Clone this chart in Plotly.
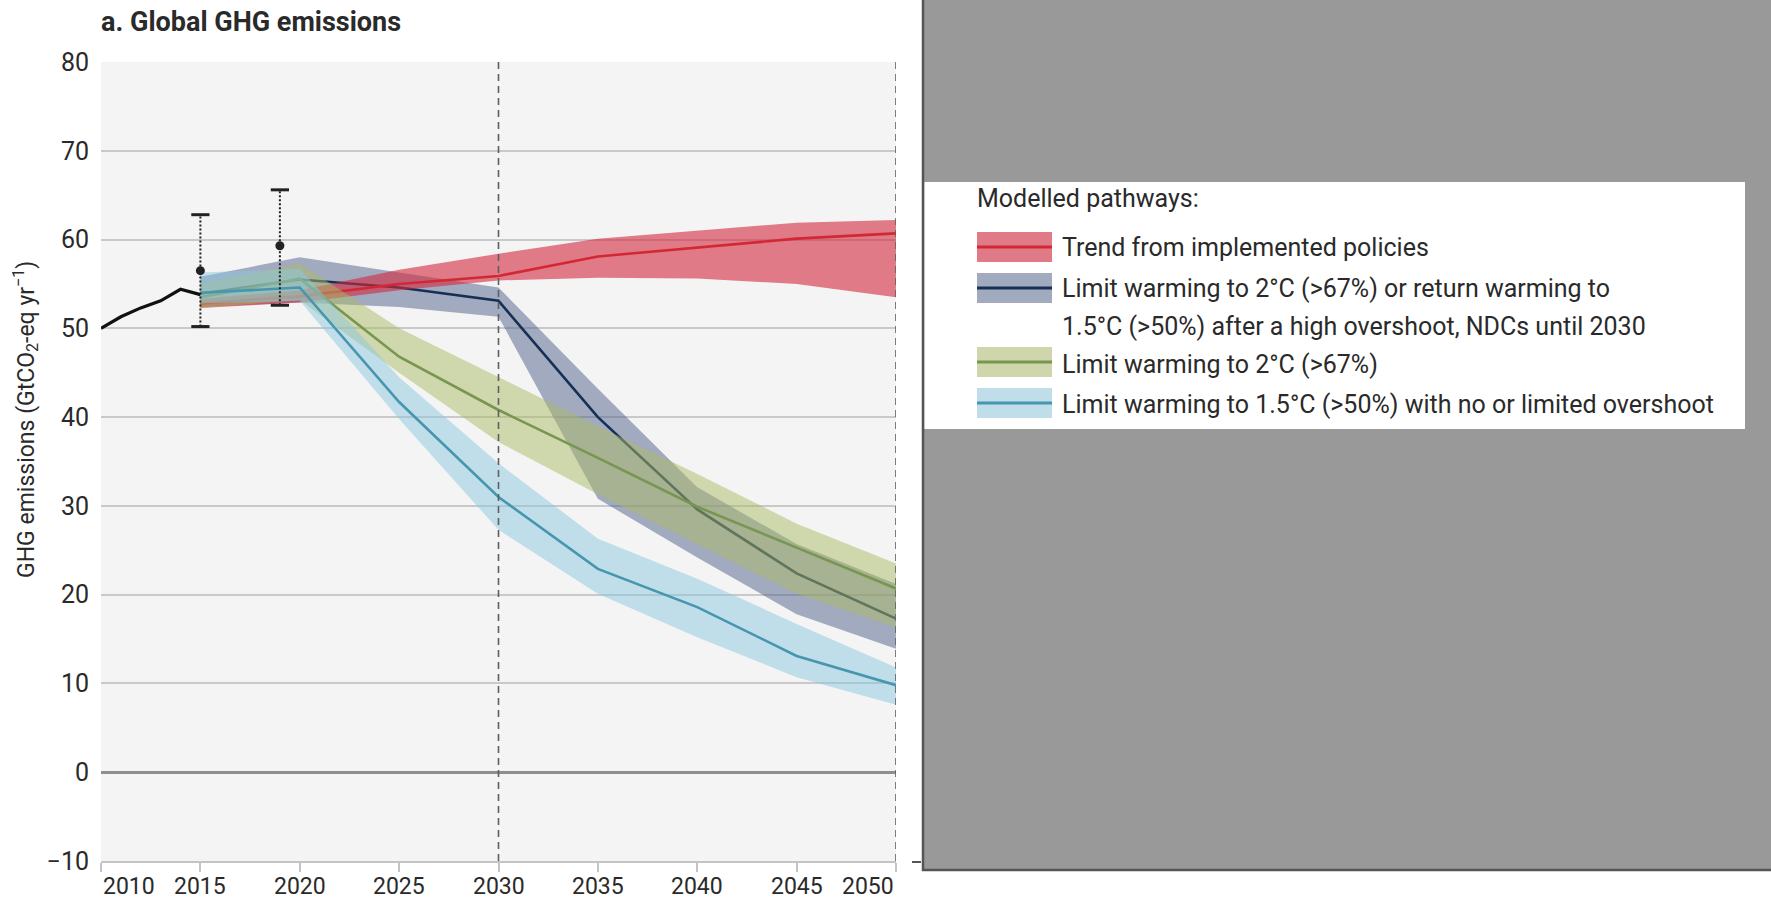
import plotly.graph_objects as go

# ---- data -------------------------------------------------------------
hist_years = [2010, 2011, 2012, 2013, 2014, 2015]
hist_values = [50.0, 51.3, 52.3, 53.1, 54.4, 53.8]

est_years = [2015, 2019]
est_values = [56.5, 59.3]
est_low = [50.2, 52.6]
est_high = [62.8, 65.6]

path_years = [2015, 2020, 2025, 2030, 2035, 2040, 2045, 2050]

policies_med = [52.8, 53.6, 55.0, 55.9, 58.1, 59.1, 60.1, 60.7]
policies_hi = [53.3, 54.3, 56.6, 58.4, 60.1, 61.0, 61.9, 62.2]
policies_lo = [52.3, 52.9, 54.3, 55.4, 55.7, 55.6, 55.0, 53.5]

ndc_med = [53.9, 55.5, 54.6, 53.1, 40.0, 29.6, 22.4, 17.3]
ndc_hi = [55.8, 58.0, 56.3, 54.6, 43.2, 32.1, 25.7, 21.2]
ndc_lo = [52.4, 52.9, 52.4, 51.3, 30.8, 24.2, 17.8, 13.9]

c2_med = [53.5, 55.6, 46.8, 40.8, 35.4, 29.9, 25.3, 20.7]
c2_hi = [55.0, 57.3, 50.0, 44.5, 39.0, 33.6, 28.0, 23.5]
c2_lo = [52.3, 53.2, 45.0, 37.2, 31.3, 25.7, 20.1, 16.3]

c15_med = [54.0, 54.6, 41.7, 31.0, 22.9, 18.6, 13.1, 9.8]
c15_hi = [56.3, 56.7, 44.5, 34.8, 26.3, 21.8, 16.7, 11.8]
c15_lo = [52.8, 53.1, 39.8, 27.3, 20.1, 15.2, 10.7, 7.6]

x_ticks = [2010, 2015, 2020, 2025, 2030, 2035, 2040, 2045, 2050]
y_ticks = [-10, 0, 10, 20, 30, 40, 50, 60, 70, 80]

legend_title = "Modelled pathways:"
legend_labels = [
    ["Trend from implemented policies"],
    ["Limit warming to 2°C (>67%) or return warming to",
     "1.5°C (>50%) after a high overshoot, NDCs until 2030"],
    ["Limit warming to 2°C (>67%)"],
    ["Limit warming to 1.5°C (>50%) with no or limited overshoot"],
]
legend_fills = ["rgb(224,122,134)", "rgb(162,170,192)", "rgb(207,214,172)", "rgb(192,222,233)"]
legend_lines = ["rgb(210,40,52)", "rgb(22,48,85)", "rgb(120,150,80)", "rgb(70,150,175)"]

# ---- layout geometry (pixels) -----------------------------------------
W, H = 1771, 901
L, R, T, B = 101, 896, 62, 861
FONT = "Roboto, Arial, sans-serif"
TXT = "#2a2a2a"


def px_x(px):
    return (px - L) / (R - L)


def px_y(py):
    return (B - py) / (B - T)


fig = go.Figure()


def add_band(lo, hi, med, fill, line):
    fig.add_trace(go.Scatter(
        x=path_years + path_years[::-1], y=hi + lo[::-1],
        fill="toself", fillcolor=fill, line=dict(width=0),
        mode="lines", hoverinfo="skip", showlegend=False))
    fig.add_trace(go.Scatter(
        x=path_years, y=med, mode="lines",
        line=dict(color=line, width=2.6), showlegend=False))


add_band(ndc_lo, ndc_hi, ndc_med, "rgba(80,95,140,0.5)", legend_lines[1])
add_band(policies_lo, policies_hi, policies_med, "rgba(210,40,60,0.6)", legend_lines[0])
add_band(c2_lo, c2_hi, c2_med, "rgba(170,185,100,0.5)", legend_lines[2])
add_band(c15_lo, c15_hi, c15_med, "rgba(140,200,222,0.5)", legend_lines[3])

# historical emissions
fig.add_trace(go.Scatter(x=hist_years, y=hist_values, mode="lines",
                         line=dict(color="#111111", width=3.2), showlegend=False))

# estimates with uncertainty ranges
for yr, v, lo, hi in zip(est_years, est_values, est_low, est_high):
    fig.add_trace(go.Scatter(x=[yr, yr], y=[lo, hi], mode="lines",
                             line=dict(color="#222222", width=2, dash="2px,2px"),
                             showlegend=False))
    fig.add_trace(go.Scatter(x=[yr, yr], y=[lo, hi], mode="markers",
                             marker=dict(symbol="line-ew", size=13,
                                         line=dict(color="#222222", width=3)),
                             showlegend=False))
    fig.add_trace(go.Scatter(x=[yr], y=[v], mode="markers",
                             marker=dict(symbol="circle", size=9, color="#222222"),
                             showlegend=False))

shapes = []
# dashed reference years
for yr in (2030, 2050):
    shapes.append(dict(type="line", xref="x", yref="y", x0=yr, x1=yr, y0=-10, y1=80,
                       line=dict(color="#5f5f5f", width=1.6, dash="7px,5px"), layer="above"))

# grey side panel with legend box
shapes.append(dict(type="rect", xref="paper", yref="paper",
                   x0=px_x(923), x1=px_x(1800), y0=px_y(870), y1=px_y(-20),
                   fillcolor="#999999", line=dict(color="#555555", width=2.5), layer="above"))
shapes.append(dict(type="rect", xref="paper", yref="paper",
                   x0=px_x(924.5), x1=px_x(1745), y0=px_y(429), y1=px_y(182),
                   fillcolor="#ffffff", line=dict(width=0), layer="above"))
shapes.append(dict(type="line", xref="paper", yref="paper",
                   x0=px_x(912), x1=px_x(921), y0=px_y(862), y1=px_y(862),
                   line=dict(color="#555555", width=2), layer="above"))

annotations = []
swatch_y = [247, 288, 362, 403]
text_y = [[247], [288, 326], [364], [404]]
for labels, fill, line, cy, tys in zip(legend_labels, legend_fills, legend_lines, swatch_y, text_y):
    shapes.append(dict(type="rect", xref="paper", yref="paper",
                       x0=px_x(977), x1=px_x(1052), y0=px_y(cy + 15), y1=px_y(cy - 15),
                       fillcolor=fill, line=dict(width=0), layer="above"))
    shapes.append(dict(type="line", xref="paper", yref="paper",
                       x0=px_x(977), x1=px_x(1052), y0=px_y(cy), y1=px_y(cy),
                       line=dict(color=line, width=3), layer="above"))
    for label, ty in zip(labels, tys):
        annotations.append(dict(xref="paper", yref="paper", x=px_x(1060), y=px_y(ty),
                                xanchor="left", yanchor="middle",
                                text=label, showarrow=False, align="left",
                                font=dict(family=FONT, size=25, color=TXT)))

annotations.append(dict(xref="paper", yref="paper", x=px_x(975), y=px_y(198),
                        xanchor="left", yanchor="middle", text=legend_title, showarrow=False,
                        font=dict(family=FONT, size=25, color=TXT)))

# title and axis title
annotations.append(dict(xref="paper", yref="paper", x=px_x(99), y=px_y(22),
                        xanchor="left", yanchor="middle", text="<b>a. Global GHG emissions</b>",
                        showarrow=False, font=dict(family=FONT, size=27, color=TXT)))
annotations.append(dict(xref="paper", yref="paper", x=px_x(25), y=px_y(420),
                        xanchor="center", yanchor="middle", textangle=-90,
                        text="GHG emissions (GtCO<sub>2</sub>-eq yr<sup>−1</sup>)",
                        showarrow=False, font=dict(family=FONT, size=23, color=TXT)))

# x tick labels (outer labels kept inside the axis span)
for yr in x_ticks:
    anchor = "left" if yr == x_ticks[0] else ("right" if yr == x_ticks[-1] else "center")
    annotations.append(dict(xref="x", yref="paper", x=yr, y=px_y(887),
                            xanchor=anchor, yanchor="middle", text=str(yr),
                            showarrow=False, font=dict(family=FONT, size=23, color=TXT)))

fig.update_layout(
    width=W, height=H,
    margin=dict(l=L, r=W - R, t=T, b=H - B, pad=0),
    paper_bgcolor="#ffffff", plot_bgcolor="#f4f4f4",
    shapes=shapes, annotations=annotations,
    showlegend=False,
    font=dict(family=FONT, size=24, color=TXT),
)
fig.update_xaxes(range=[2010, 2050], tickvals=x_ticks, showticklabels=False,
                 ticks="outside", ticklen=9, tickwidth=1.5, tickcolor="#c4c4c4",
                 showgrid=False, zeroline=False,
                 showline=True, linecolor="#c4c4c4", linewidth=1.5)
fig.update_yaxes(range=[-10, 80], tickvals=y_ticks, ticktext=[str(v).replace("-", "−") for v in y_ticks],
                 ticks="outside", ticklen=6, tickcolor="rgba(0,0,0,0)",
                 tickfont=dict(family=FONT, size=25, color=TXT),
                 showgrid=True, gridcolor="#c9c9c9", gridwidth=1.5,
                 zeroline=True, zerolinecolor="#8e8e8e", zerolinewidth=3,
                 showline=False)

fig.write_html("out.html")
